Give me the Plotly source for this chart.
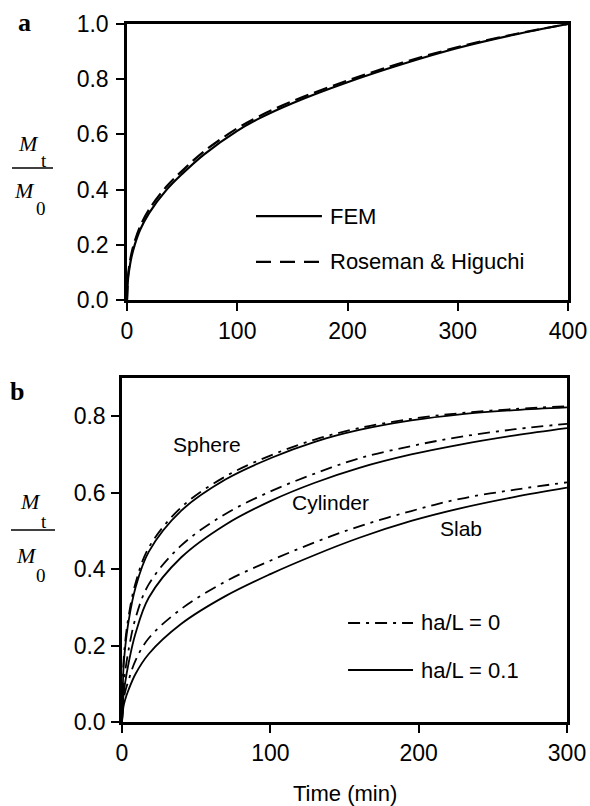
import plotly.graph_objects as go

# ---------------- data: panel a ----------------
t_a = [0, 1, 2, 4, 7, 12, 20, 36, 50, 70, 100, 120, 150, 200, 250, 300, 350, 400]
fem = [0, 0.08, 0.11, 0.155, 0.2, 0.255, 0.315, 0.4, 0.457, 0.528, 0.613, 0.658, 0.713, 0.789, 0.855, 0.913, 0.96, 1.0]
roseman = [0, 0.09, 0.122, 0.168, 0.213, 0.268, 0.328, 0.412, 0.468, 0.539, 0.622, 0.666, 0.72, 0.795, 0.86, 0.916, 0.962, 1.0]

# ---------------- data: panel b ----------------
t_b = [0, 1, 2, 4.5, 9, 18, 40, 70, 100, 130, 160, 195, 228, 265, 300]
sphere_01 = [0, 0.14, 0.19, 0.265, 0.35, 0.445, 0.553, 0.635, 0.69, 0.733, 0.764, 0.789, 0.805, 0.816, 0.823]
sphere_0 = [0, 0.155, 0.205, 0.278, 0.362, 0.456, 0.562, 0.643, 0.697, 0.739, 0.769, 0.793, 0.808, 0.819, 0.826]
cyl_01 = [0, 0.07, 0.1, 0.155, 0.23, 0.325, 0.431, 0.517, 0.578, 0.626, 0.665, 0.7, 0.726, 0.75, 0.769]
cyl_0 = [0, 0.09, 0.128, 0.19, 0.27, 0.36, 0.462, 0.545, 0.603, 0.65, 0.69, 0.722, 0.746, 0.766, 0.78]
slab_01 = [0, 0.04, 0.057, 0.085, 0.125, 0.178, 0.257, 0.33, 0.387, 0.437, 0.482, 0.526, 0.559, 0.589, 0.613]
slab_0 = [0, 0.055, 0.077, 0.11, 0.16, 0.219, 0.296, 0.368, 0.422, 0.47, 0.512, 0.552, 0.584, 0.608, 0.627]

x_ticks_a = [0, 100, 200, 300, 400]
y_ticks_a = [0.0, 0.2, 0.4, 0.6, 0.8, 1.0]
x_ticks_b = [0, 100, 200, 300]
y_ticks_b = [0.0, 0.2, 0.4, 0.6, 0.8]

W, H = 590, 806
SANS = "Liberation Sans, Arial, sans-serif"
SERIF = "Liberation Serif, Times New Roman, serif"
FS_TICK = 23
FS_TXT = 22
DASHDOT = "12px,6px,3px,6px"
DASH = "14px,6px"

fig = go.Figure()

# panel a curves
fig.add_trace(go.Scatter(x=t_a, y=fem, mode="lines",
                         line=dict(color="black", width=2.2, shape="spline", smoothing=1),
                         xaxis="x", yaxis="y", showlegend=False, name="FEM"))
fig.add_trace(go.Scatter(x=t_a, y=roseman, mode="lines",
                         line=dict(color="black", width=2.2, dash=DASH, shape="spline", smoothing=1),
                         xaxis="x", yaxis="y", showlegend=False, name="Roseman & Higuchi"))

# panel b curves
for ys, dash in [(sphere_0, DASHDOT), (sphere_01, "solid"), (cyl_0, DASHDOT), (cyl_01, "solid"),
                 (slab_0, DASHDOT), (slab_01, "solid")]:
    fig.add_trace(go.Scatter(x=t_b, y=ys, mode="lines",
                             line=dict(color="black", width=1.8, dash=dash, shape="spline", smoothing=1),
                             xaxis="x2", yaxis="y2", showlegend=False))

# geometry (pixels)
ax_l, ax_r, ax_t, ax_b = 127, 568, 24, 300
bx_l, bx_r, bx_t, bx_b = 122, 567, 378, 722

axis_common = dict(showline=True, linecolor="black", linewidth=2.5, mirror=True,
                   ticks="outside", ticklen=8, tickwidth=2, tickcolor="black",
                   showgrid=False, zeroline=False, automargin=False,
                   tickfont=dict(family=SANS, size=FS_TICK, color="black"))

fig.update_layout(
    template="none",
    width=W, height=H,
    margin=dict(l=0, r=0, t=0, b=0),
    paper_bgcolor="white", plot_bgcolor="white",
    xaxis=dict(domain=[ax_l / W, ax_r / W], range=[0, 400], tickvals=x_ticks_a,
               anchor="y", ticklabelstandoff=1, **axis_common),
    yaxis=dict(domain=[1 - ax_b / H, 1 - ax_t / H], range=[0, 1.0], tickvals=y_ticks_a,
               tickformat=".1f", anchor="x", ticklabelstandoff=3, **axis_common),
    xaxis2=dict(domain=[bx_l / W, bx_r / W], range=[0, 300], tickvals=x_ticks_b,
                anchor="y2", ticklabelstandoff=1, **axis_common),
    yaxis2=dict(domain=[1 - bx_b / H, 1 - bx_t / H], range=[0, 0.9], tickvals=y_ticks_b,
                tickformat=".1f", anchor="x2", ticklabelstandoff=1, **axis_common),
)

shapes = []
ann = []


def px(xp, yp):
    return xp / W, 1 - yp / H


# x-axis title of panel b
x, y = px((bx_l + bx_r) / 2, 793)
ann.append(dict(xref="paper", yref="paper", x=x, y=y, text="Time (min)", showarrow=False,
                xanchor="center", yanchor="middle", font=dict(family=SANS, size=FS_TXT, color="black")))

# legend panel a
for yd, dash, label in [(0.304, "solid", "FEM"), (0.138, "15px,9px", "Roseman & Higuchi")]:
    shapes.append(dict(type="line", xref="x domain", yref="y domain", x0=0.2925, x1=0.442, y0=yd, y1=yd,
                       line=dict(color="black", width=2.2, dash=dash)))
    ann.append(dict(xref="x domain", yref="y domain", x=0.456, y=yd, text=label, showarrow=False,
                    xanchor="left", yanchor="middle", font=dict(family=SANS, size=FS_TXT, color="black")))

# legend panel b
for yd, dash, label in [(0.288, DASHDOT, "ha/L = 0"), (0.151, "solid", "ha/L = 0.1")]:
    shapes.append(dict(type="line", xref="x2 domain", yref="y2 domain", x0=0.508, x1=0.654, y0=yd, y1=yd,
                       line=dict(color="black", width=2, dash=dash)))
    ann.append(dict(xref="x2 domain", yref="y2 domain", x=0.668, y=yd, text=label, showarrow=False,
                    xanchor="left", yanchor="middle", font=dict(family=SANS, size=FS_TXT, color="black")))

# curve labels
for txt, xv, yv in [("Sphere", 57.5, 0.726), ("Cylinder", 140.5, 0.574), ("Slab", 228.8, 0.506)]:
    ann.append(dict(xref="x2", yref="y2", x=xv, y=yv, text=txt, showarrow=False,
                    xanchor="center", yanchor="middle", font=dict(family=SANS, size=21, color="black")))

# panel letters
for txt, (xp, yp) in [("<b>a</b>", (24, 22)), ("<b>b</b>", (17, 391))]:
    x, y = px(xp, yp)
    ann.append(dict(xref="paper", yref="paper", x=x, y=y, text=txt, showarrow=False,
                    xanchor="center", yanchor="middle", font=dict(family=SERIF, size=26, color="black")))

# M_t / M_0 fraction labels
for (mx, my), (tx, ty), (lx0, lx1, ly), (m2x, m2y), (zx, zy) in [
    ((28, 143), (44, 161), (12, 53, 168), (24, 190), (41, 208)),
    ((30, 501), (44, 521), (11, 55, 530), (26, 555), (41, 575)),
]:
    for txt, (xp, yp), sz in [("<i>M</i>", (mx, my), 22), ("t", (tx, ty), 19),
                              ("<i>M</i>", (m2x, m2y), 22), ("0", (zx, zy), 19)]:
        x, y = px(xp, yp)
        ann.append(dict(xref="paper", yref="paper", x=x, y=y, text=txt, showarrow=False,
                        xanchor="center", yanchor="middle", font=dict(family=SERIF, size=sz, color="black")))
    x0, y0 = px(lx0, ly)
    x1, _ = px(lx1, ly)
    shapes.append(dict(type="line", xref="paper", yref="paper", x0=x0, x1=x1, y0=y0, y1=y0,
                       line=dict(color="black", width=1.5)))

fig.update_layout(shapes=shapes, annotations=ann)
fig.write_html("out.html")
